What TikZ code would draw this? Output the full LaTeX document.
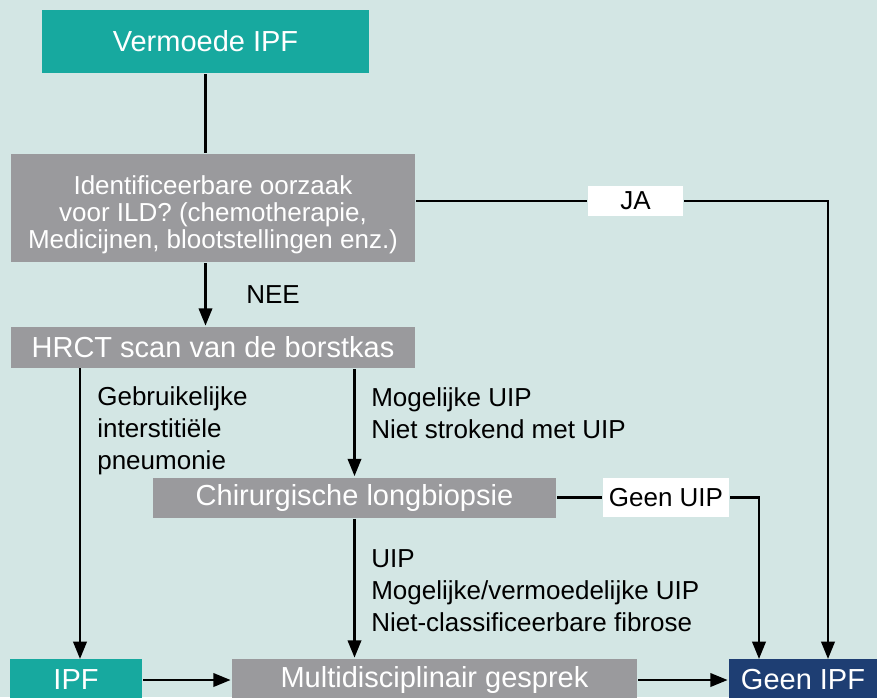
\documentclass[tikz,border=0pt]{standalone}
\usepackage{fontspec}
\setmainfont{Liberation Sans}
\usetikzlibrary{arrows.meta}

\definecolor{bgmint}{HTML}{D3E6E4}
\definecolor{ipfteal}{HTML}{17A99F}
\definecolor{stepgrey}{HTML}{9A9A9D}
\definecolor{navyend}{HTML}{1E3E73}

\begin{document}
\begin{tikzpicture}[x=0.75pt,y=-0.75pt,>={Triangle[length=13pt,width=10pt]},line width=2pt,
  box/.style={inner sep=0pt,text=white,font=\fontsize{21.75}{26}\selectfont},
  tealbox/.style={box,fill=ipfteal},
  greybox/.style={box,fill=stepgrey},
  navybox/.style={box,fill=navyend},
  tag/.style={inner sep=0pt,fill=white,font=\fontsize{19.5}{24}\selectfont},
  lbl/.style={inner sep=0pt,align=left,font=\fontsize{19.5}{24}\selectfont}]

  % background and page size
  \fill[bgmint] (0,0) rectangle (877,697);
  \useasboundingbox (0,0) rectangle (877,697);

  % boxes
  \node[tealbox,minimum width=245.25pt,minimum height=47.25pt] (verm) at (205.5,41.5) {Vermoede IPF};
  \node[greybox,minimum width=303pt,minimum height=81pt,
    font=\fontsize{19.5}{20.25}\selectfont] (ident) at (213,208)
    {\raisebox{-6pt}[\height][\depth]{\begin{tabular}{@{}c@{}}Identificeerbare oorzaak\\voor ILD? (chemotherapie,\\Medicijnen, blootstellingen enz.)\end{tabular}}};
  \node[greybox,minimum width=303pt,minimum height=30.75pt] (hrct) at (213,347.5) {HRCT scan van de borstkas};
  \node[greybox,minimum width=302.25pt,minimum height=30pt] (biop) at (354.5,497.5) {Chirurgische longbiopsie};
  \node[tealbox,minimum width=99pt,minimum height=31.5pt] (ipf) at (76,680) {IPF};
  \node[greybox,minimum width=303.75pt,minimum height=31.5pt] (multi) at (434.5,680) {Multidisciplinair gesprek};
  \node[navybox,minimum width=111pt,minimum height=31.5pt] (geen) at (803,680) {Geen IPF};

  % white tags on the lines
  \node[tag,minimum width=71.25pt,minimum height=22.5pt] (ja) at (635.5,201) {JA};
  \node[tag,minimum width=94.5pt,minimum height=29.25pt] (guip) at (666,497.5) {Geen UIP};

  % free ends
  \coordinate (hrctleft) at (80,368);
  \coordinate (ipftop) at (80,659);
  \coordinate (uiptop) at (759,659);
  \coordinate (jatop) at (828,659);

  % labels
  \node[lbl,anchor=base west] (nee) at (245,303) {NEE};
  \node[lbl,anchor=north west] (gip) at (96,385) {Gebruikelijke\\interstitiële\\pneumonie};
  \node[lbl,anchor=north west] (muip) at (370,386) {Mogelijke UIP\\Niet strokend met UIP};
  \node[lbl,anchor=north west] (uip) at (370,548) {UIP\\Mogelijke/vermoedelijke UIP\\Niet-classificeerbare fibrose};

  % connectors
  \draw (verm.south) -- (verm.south |- ident.north);
  \draw[->] (verm.south |- ident.south) -- (verm.south |- hrct.north);
  \draw[->] (hrctleft) -- (ipftop);
  \draw[->] (biop.north |- hrct.south) -- (biop.north);
  \draw[->] (biop.south) -- (biop.south |- multi.north);
  \draw[->] (ipf.east) -- (multi.west);
  \draw[->] (multi.east) -- (geen.west);
  \draw (ident.east |- ja) -- (ja.west);
  \draw[->] (ja.east) -| (jatop);
  \draw (biop.east |- guip) -- (guip.west);
  \draw[->] (guip.east) -| (uiptop);
\end{tikzpicture}
\end{document}
